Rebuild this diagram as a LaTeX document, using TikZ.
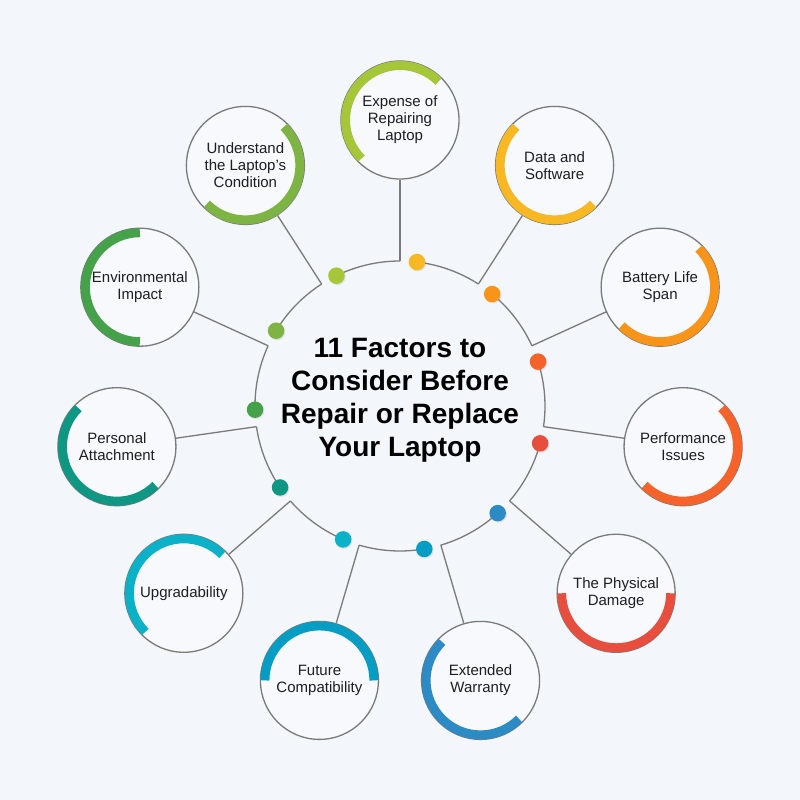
\documentclass[tikz,border=0pt]{standalone}
\usepackage{fontspec}
\setmainfont{Liberation Sans}
\usepackage{tikz}
\usetikzlibrary{shadows}
\definecolor{bgcolor}{RGB}{243,246,250}
\definecolor{circlefill}{RGB}{247,249,252}
\definecolor{linegray}{RGB}{122,122,122}
\definecolor{labelcolor}{RGB}{30,30,30}
\definecolor{expensecolor}{RGB}{166,198,58}
\definecolor{datacolor}{RGB}{248,184,35}
\definecolor{batterycolor}{RGB}{247,148,25}
\definecolor{perfcolor}{RGB}{245,99,42}
\definecolor{physicalcolor}{RGB}{232,78,62}
\definecolor{warrantycolor}{RGB}{44,139,196}
\definecolor{futurecolor}{RGB}{6,157,196}
\definecolor{upgradecolor}{RGB}{11,177,198}
\definecolor{personalcolor}{RGB}{16,151,132}
\definecolor{envcolor}{RGB}{69,161,74}
\definecolor{conditioncolor}{RGB}{125,180,68}

\begin{document}
\begin{tikzpicture}[x=1pt, y=1pt,
    factor/.style={circle, draw=linegray, line width=1.3pt, fill=circlefill,
        minimum size=118pt, inner sep=0pt, align=center, text=labelcolor,
        font=\fontsize{15}{17}\selectfont},
    ring/.style={linegray, line width=1.3pt},
    dot/.style={circle, inner sep=0pt, minimum size=16.5pt,
        drop shadow={opacity=0.18, shadow xshift=1pt, shadow yshift=-1.2pt}}]

    % Background
    \fill[bgcolor] (-400,-394) rectangle (400,406);
    \useasboundingbox (-400,-394) rectangle (400,406);

    % Title
    \node[font=\bfseries\fontsize{28}{33}\selectfont, align=center] (title) at (0,6)
        {11 Factors to\\Consider Before\\Repair or Replace\\Your Laptop};

    % Factors round the ring
    \foreach \i/\col/\s/\txt in {
        0/expensecolor/45/{Expense of\\Repairing\\Laptop},
        1/datacolor/135/{Data and\\Software},
        2/batterycolor/-135/{Battery Life\\Span},
        3/perfcolor/-135/{Performance\\Issues},
        4/physicalcolor/180/{The Physical\\Damage},
        5/warrantycolor/135/{Extended\\Warranty},
        6/futurecolor/0/{Future\\Compatibility},
        7/upgradecolor/45/{Upgradability},
        8/personalcolor/135/{Personal\\Attachment},
        9/envcolor/90/{Environmental\\Impact},
        10/conditioncolor/-135/{Understand\\the Laptop's\\Condition}}
    {
        \pgfmathsetmacro{\a}{90-\i*360/11}
        \pgfmathsetmacro{\b}{\a+26}
        \coordinate (c\i) at (\a:145);
        \draw[ring] (c\i) arc[start angle=\a, end angle=\b, radius=145pt];
        \node[factor] (f\i) at (\a:286) {\txt};
        \draw[ring] (c\i) -- (f\i);
        \draw[\col, line width=9pt] ([shift={(\s:54.5)}]f\i.center)
            arc[start angle=\s, delta angle=180, radius=54.5pt];
        \node[dot, fill=\col] (d\i) at (\b:145) {};
    }
\end{tikzpicture}
\end{document}
